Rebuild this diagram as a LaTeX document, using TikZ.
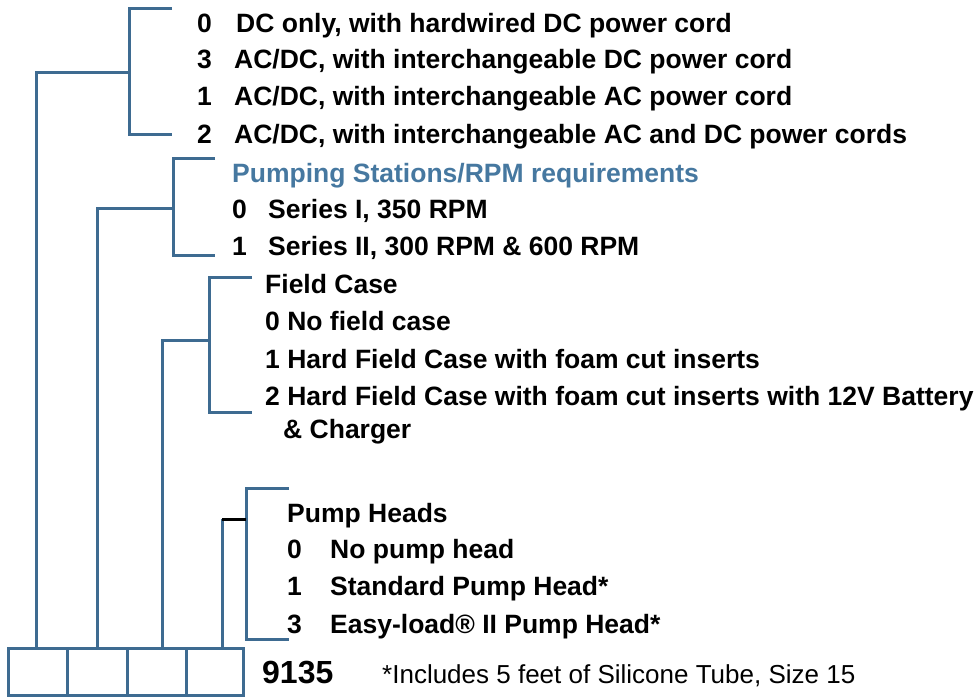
\documentclass[tikz,border=0pt]{standalone}
\usepackage{fontspec}
\setmainfont{Liberation Sans}
\definecolor{brk}{RGB}{62,107,145}
\definecolor{hdr}{RGB}{70,120,160}
\begin{document}
\begin{tikzpicture}[x=1pt,y=-1pt,
  brline/.style={draw=brk,line width=3pt},
  opt/.style={anchor=base west,inner sep=0pt,font=\fontsize{26.5}{30}\selectfont\bfseries},
  foot/.style={anchor=base west,inner sep=0pt,font=\fontsize{26}{30}\selectfont}]
\useasboundingbox (0,0) rectangle (977,696);
% brackets
\draw[brline] (172,8) -- (129,8) -- (129,134) -- (172,134);
\draw[brline] (129,72) -- (36,72) -- (36,647);
\draw[brline] (215,158) -- (173,158) -- (173,255) -- (215,255);
\draw[brline] (173,208) -- (97,208) -- (97,647);
\draw[brline] (252,277) -- (209,277) -- (209,412) -- (252,412);
\draw[brline] (209,340) -- (162,340) -- (162,647);
\draw[brline] (289,488) -- (246,488) -- (246,639) -- (289,639);
\draw[brline] (222,647) -- (222,519);
\draw[line width=3pt] (222,519) -- (246,519);
% code boxes
\foreach \i/\a/\b in {1/8/67,2/67/127,3/127/186,4/186/243}
  \draw[brline] (\a,648) rectangle (\b,695) node[pos=.5] (box\i) {};
% power options
\node[opt] (p0n) at (197,32) {0};
\node[opt] (p0) at (236,32) {DC only, with hardwired DC power cord};
\node[opt] (p3n) at (197,68) {3};
\node[opt] (p3) at (234,68) {AC/DC, with interchangeable DC power cord};
\node[opt] (p1n) at (197,105) {1};
\node[opt] (p1) at (234,105) {AC/DC, with interchangeable AC power cord};
\node[opt] (p2n) at (197,143) {2};
\node[opt] (p2) at (234,143) {AC/DC, with interchangeable AC and DC power cords};
% pumping stations
\node[opt,text=hdr] (ps) at (232,182) {Pumping Stations/RPM requirements};
\node[opt] (s0n) at (232,218) {0};
\node[opt] (s0) at (268,218) {Series I, 350 RPM};
\node[opt] (s1n) at (232,255) {1};
\node[opt] (s1) at (268,255) {Series II, 300 RPM \& 600 RPM};
% field case
\node[opt] (fc) at (265,293) {Field Case};
\node[opt] (fc0) at (265,330) {0 No field case};
\node[opt] (fc1) at (265,368) {1 Hard Field Case with foam cut inserts};
\node[opt] (fc2) at (265,405) {2 Hard Field Case with foam cut inserts with 12V Battery};
\node[opt] (fc2b) at (283,438) {\& Charger};
% pump heads
\node[opt] (ph) at (287,522) {Pump Heads};
\node[opt] (h0n) at (287,558) {0};
\node[opt] (h0) at (330,558) {No pump head};
\node[opt] (h1n) at (287,595) {1};
\node[opt] (h1) at (330,595) {Standard Pump Head*};
\node[opt] (h3n) at (287,633) {3};
\node[opt] (h3) at (330,633) {Easy-load® II Pump Head*};
% model number
\node[opt,font=\fontsize{32}{36}\selectfont\bfseries] (model) at (262,683) {9135};
\node[foot] (note) at (382,683) {*Includes 5 feet of Silicone Tube, Size 15};
\end{tikzpicture}
\end{document}
